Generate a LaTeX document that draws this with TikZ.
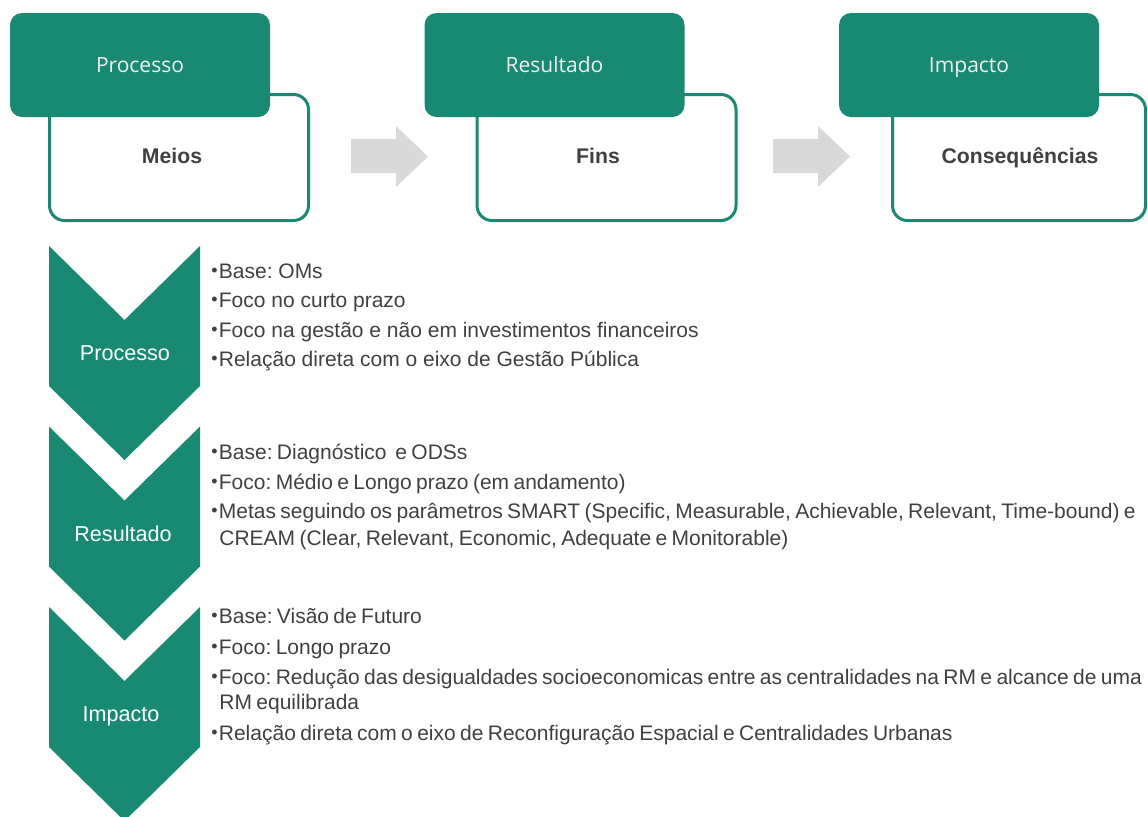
\documentclass[tikz,border=0pt]{standalone}
\usepackage{fontspec}
\setmainfont{Liberation Sans}
\newfontfamily\headfont{Open Sans}
\newfontfamily\tightfont{Liberation Sans}[WordSpace=0.75]
\usetikzlibrary{positioning,calc}
\definecolor{smartgreen}{RGB}{24,138,115}
\definecolor{arrowgray}{RGB}{217,217,217}
\definecolor{bodytext}{RGB}{64,64,64}
\frenchspacing
\newcommand{\itm}{\raisebox{0.9pt}{\fontsize{9}{9}\selectfont\textbullet}\hspace{0.6pt}}
\tikzset{
  headbox/.style={rectangle,rounded corners=6pt,fill=smartgreen,minimum width=130pt,minimum height=52pt,inner sep=0pt,text=white!94!black,text height=7.5pt,text depth=0pt,font=\headfont\fontsize{10.5}{12}\selectfont},
  bodybox/.style={rectangle,rounded corners=7.5pt,draw=smartgreen,line width=1.5pt,fill=white,minimum width=129.5pt,minimum height=63pt,inner sep=0pt},
  bodylabel/.style={inner sep=0pt,text=bodytext,text height=7.6pt,text depth=0pt,font=\bfseries\fontsize{10.6}{12}\selectfont},
  chev/.style={fill=smartgreen},
  chevlabel/.style={inner sep=0pt,text=white,text height=7.7pt,text depth=0pt,font=\fontsize{10.8}{12}\selectfont},
  blockarrow/.style={fill=arrowgray},
  item/.style={anchor=base west,inner sep=0pt,text=bodytext,font=\fontsize{10.5}{13}\selectfont},
  tightitem/.style={item,font=\tightfont\fontsize{10.5}{13}\selectfont}
}

\begin{document}
\begin{tikzpicture}[x=0.5pt,y=-0.5pt]
  \useasboundingbox (0,0) rectangle (1148,816);

  % top row: white boxes behind the green headers
  \node[bodybox] (meiosbox) at (179,157.5) {};
  \node[bodybox] (finsbox) at (606.5,157.5) {};
  \node[bodybox,minimum width=126.5pt] (consbox) at (1019,157.5) {};
  \node[headbox] (hproc) at (140,65) {Processo};
  \node[headbox] (hres) at (554.5,65) {Resultado};
  \node[headbox] (himp) at (969,65) {Impacto};
  \node[bodylabel] (meios) at (172,156) {Meios};
  \node[bodylabel] (fins) at (598,156) {Fins};
  \node[bodylabel] (cons) at (1020,156) {Consequências};

  % gray block arrows
  \foreach \dx in {0,422}
    \fill[blockarrow,xshift=\dx*0.5pt] (351,139) -- (396,139) -- (396,126) -- (428,156.5)
      -- (396,187) -- (396,173) -- (351,173) -- cycle;

  % chevrons
  \foreach \k/\lx/\txt in {0/125/Processo,1/123/Resultado,2/121/Impacto} {
    \pgfmathsetmacro{\top}{246+180.5*\k}
    \fill[chev] (49,\top) -- (124.5,\top+74) -- (200,\top) -- (200,\top+140)
      -- (124.5,\top+214) -- (49,\top+140) -- cycle;
    \node[chevlabel] (chev\k) at (\lx,\top+107) {\txt};
  }

  % Processo
  \node[item] (p1) at (211,278) {\itm Base: OMs};
  \node[item] (p2) at (211,307.5) {\itm Foco no curto prazo};
  \node[item] (p3) at (211,337) {\itm Foco na gestão e não em investimentos financeiros};
  \node[item] (p4) at (211,366.5) {\itm Relação direta com o eixo de Gestão Pública};

  % Resultado
  \node[tightitem] (r1) at (211,459) {\itm Base: Diagnóstico\ \ e ODSs};
  \node[tightitem] (r2) at (211,489) {\itm Foco: Médio e Longo prazo (em andamento)};
  \node[tightitem] (r3) at (211,518) {\itm Metas seguindo os parâmetros SMART (Specific, Measurable, Achievable, Relevant, Time-bound) e};
  \node[tightitem] (r4) at (219,545) {CREAM (Clear, Relevant, Economic, Adequate e Monitorable)};

  % Impacto
  \node[tightitem] (i1) at (211,623) {\itm Base: Visão de Futuro};
  \node[tightitem] (i2) at (211,654) {\itm Foco: Longo prazo};
  \node[tightitem] (i3) at (211,684) {\itm Foco: Redução das desigualdades socioeconomicas entre as centralidades na RM e alcance de uma};
  \node[tightitem] (i4) at (219,709) {RM equilibrada};
  \node[tightitem] (i5) at (211,740) {\itm Relação direta com o eixo de Reconfiguração Espacial e Centralidades Urbanas};
\end{tikzpicture}
\end{document}
